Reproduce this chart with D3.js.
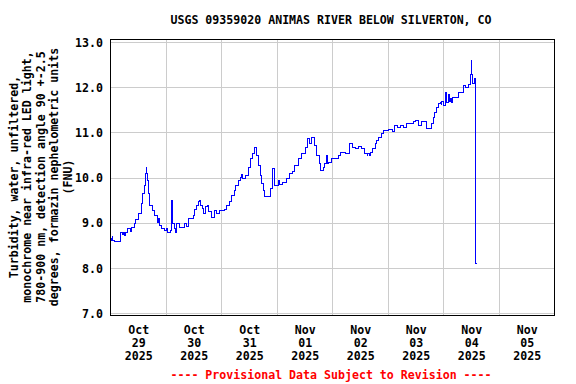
<!DOCTYPE html>
<html><head><meta charset="utf-8">
<script src="https://cdn.jsdelivr.net/npm/d3@7"></script>
<style>
html,body{margin:0;padding:0;background:#fff;}
svg{display:block;}
text{font-family:"DejaVu Sans Mono",monospace;font-weight:bold;}
</style></head>
<body>
<svg id="chart" width="576" height="384"></svg>
<script>
const titleText = "USGS 09359020 ANIMAS RIVER BELOW SILVERTON, CO";
const footerText = "---- Provisional Data Subject to Revision ----";
const yLabelLines = [
  "Turbidity, water, unfiltered,",
  "monochrome near infra-red LED light,",
  "780-900 nm, detection angle 90 +-2.5",
  "degrees, formazin nephelometric units",
  "(FNU)"
];
const yTicks = [7, 8, 9, 10, 11, 12, 13];
const dayTicks = ["2025-10-29","2025-10-30","2025-10-31","2025-11-01","2025-11-02","2025-11-03","2025-11-04","2025-11-05"];
const dayMonths = ["Oct","Oct","Oct","Nov","Nov","Nov","Nov","Nov"];
const dayNums = ["29","30","31","01","02","03","04","05"];
const dayYears = ["2025","2025","2025","2025","2025","2025","2025","2025"];
const xStart = "2025-10-29T00:00";
const xEnd = "2025-11-06T00:00";

const times = [
"2025-10-29T00:00","2025-10-29T00:30","2025-10-29T00:45","2025-10-29T01:00","2025-10-29T01:45","2025-10-29T04:30","2025-10-29T05:00","2025-10-29T05:30",
"2025-10-29T06:15","2025-10-29T06:30",
"2025-10-29T07:30","2025-10-29T08:30","2025-10-29T09:15","2025-10-29T10:15","2025-10-29T11:00","2025-10-29T12:00","2025-10-29T13:15",
"2025-10-29T14:00","2025-10-29T14:30","2025-10-29T15:00","2025-10-29T15:30","2025-10-29T15:45","2025-10-29T16:00","2025-10-29T16:30",
"2025-10-29T16:45","2025-10-29T18:00","2025-10-29T19:00","2025-10-29T20:15","2025-10-29T20:45","2025-10-29T21:15","2025-10-29T22:15",
"2025-10-29T23:30","2025-10-30T00:00","2025-10-30T00:45","2025-10-30T01:45","2025-10-30T02:30","2025-10-30T02:45","2025-10-30T03:30",
"2025-10-30T04:00","2025-10-30T04:30","2025-10-30T06:00","2025-10-30T08:00","2025-10-30T08:45","2025-10-30T09:45","2025-10-30T11:45",
"2025-10-30T12:30","2025-10-30T13:15","2025-10-30T14:00","2025-10-30T14:30","2025-10-30T14:45","2025-10-30T15:45","2025-10-30T16:15",
"2025-10-30T17:15","2025-10-30T17:45","2025-10-30T18:15","2025-10-30T19:45","2025-10-30T21:00","2025-10-30T22:00","2025-10-30T23:00",
"2025-10-31T00:15","2025-10-31T01:30","2025-10-31T02:15","2025-10-31T03:15","2025-10-31T04:30","2025-10-31T05:30","2025-10-31T06:15",
"2025-10-31T07:15","2025-10-31T08:15","2025-10-31T08:45","2025-10-31T09:15","2025-10-31T10:15","2025-10-31T11:30","2025-10-31T12:30",
"2025-10-31T13:30","2025-10-31T14:15","2025-10-31T15:15","2025-10-31T16:00","2025-10-31T16:45","2025-10-31T17:30","2025-10-31T18:00",
"2025-10-31T18:45","2025-10-31T21:00","2025-10-31T22:15","2025-10-31T22:45","2025-10-31T23:45","2025-11-01T00:30","2025-11-01T01:15",
"2025-11-01T02:30","2025-11-01T04:15","2025-11-01T05:15","2025-11-01T06:30","2025-11-01T07:45","2025-11-01T09:15","2025-11-01T10:45",
"2025-11-01T12:15","2025-11-01T13:15","2025-11-01T14:00","2025-11-01T15:00","2025-11-01T16:15","2025-11-01T17:15","2025-11-01T18:15",
"2025-11-01T19:00","2025-11-01T20:00","2025-11-01T20:45","2025-11-01T21:30","2025-11-01T21:45","2025-11-01T22:15","2025-11-01T23:45",
"2025-11-02T02:30","2025-11-02T03:15","2025-11-02T05:30","2025-11-02T07:30","2025-11-02T08:30","2025-11-02T09:45","2025-11-02T11:15",
"2025-11-02T12:45","2025-11-02T14:00","2025-11-02T15:00","2025-11-02T15:15","2025-11-02T16:00","2025-11-02T16:15",
"2025-11-02T17:15","2025-11-02T18:30","2025-11-02T19:00","2025-11-02T19:45","2025-11-02T21:00",
"2025-11-02T22:00","2025-11-03T00:00","2025-11-03T01:45","2025-11-03T03:00","2025-11-03T04:00","2025-11-03T05:15","2025-11-03T06:30",
"2025-11-03T08:00","2025-11-03T11:00","2025-11-03T11:45","2025-11-03T13:00","2025-11-03T14:30","2025-11-03T16:45","2025-11-03T19:00",
"2025-11-03T19:30","2025-11-03T20:15","2025-11-03T21:00","2025-11-03T21:45","2025-11-03T22:30","2025-11-03T23:00","2025-11-03T23:15","2025-11-04T00:00","2025-11-04T01:00",
"2025-11-04T01:15","2025-11-04T02:00","2025-11-04T02:30","2025-11-04T03:00","2025-11-04T03:30","2025-11-04T03:45","2025-11-04T05:00","2025-11-04T06:30","2025-11-04T08:45",
"2025-11-04T09:30","2025-11-04T10:45","2025-11-04T11:30","2025-11-04T12:00","2025-11-04T12:15","2025-11-04T12:30","2025-11-04T13:15",
"2025-11-04T13:45","2025-11-04T14:00","2025-11-04T14:30"
];
const values = [
8.65,8.62,8.70,8.62,8.60,8.79,8.75,8.79,
8.72,8.79,
8.88,8.82,8.91,9.00,9.08,9.22,9.44,
9.66,9.84,10.10,10.23,10.10,9.95,9.66,
9.40,9.28,9.17,9.02,9.10,8.95,8.88,
8.84,8.89,8.80,8.84,9.50,9.00,8.88,
8.80,9.00,8.91,9.00,8.93,9.10,9.17,
9.30,9.40,9.47,9.50,9.40,9.33,9.22,
9.36,9.40,9.25,9.13,9.28,9.22,9.28,
9.28,9.30,9.40,9.47,9.62,9.73,9.84,
9.95,10.02,10.08,9.98,10.06,10.24,10.43,
10.54,10.68,10.50,10.28,10.06,9.88,9.73,
9.60,9.77,10.20,9.84,9.84,9.95,9.85,
9.90,9.98,10.10,10.15,10.28,10.43,10.54,
10.68,10.87,10.77,10.89,10.72,10.50,10.32,
10.17,10.24,10.32,10.50,10.32,10.35,10.43,
10.50,10.57,10.55,10.76,10.68,10.65,10.70,
10.65,10.55,10.50,10.55,10.50,10.57,
10.65,10.77,10.83,10.90,10.98,
11.05,11.08,11.02,11.16,11.12,11.16,11.12,
11.20,11.24,11.28,11.16,11.24,11.10,11.20,
11.35,11.46,11.57,11.64,11.68,11.62,11.70,11.60,11.89,
11.68,11.84,11.70,11.75,11.68,11.78,11.79,11.89,12.05,
12.01,12.08,12.29,12.60,12.29,12.09,12.20,
10.28,8.10,8.10
];

const parse = d3.timeParse("%Y-%m-%dT%H:%M");
const parseDay = d3.timeParse("%Y-%m-%d");
const data = times.map((t, i) => ({t: parse(t), v: values[i]}));

const svg = d3.select("#chart");
const pLeft = 110.5, pRight = 554.5, pTop = 39.5, pBottom = 315.5;

const x = d3.scaleTime().domain([parse(xStart), parse(xEnd)]).range([pLeft, pRight]);
const y = d3.scaleLinear().domain([7, 13]).range([313.5, 42.5]);

// grid
const grid = svg.append("g").attr("shape-rendering", "crispEdges");
grid.selectAll("line.h").data(yTicks).join("line")
  .attr("x1", pLeft).attr("x2", pRight)
  .attr("y1", d => y(d)).attr("y2", d => y(d))
  .attr("stroke", "#cccccc").attr("stroke-width", 1);
const dayBounds = dayTicks.slice(1).map(parseDay);
grid.selectAll("line.v").data(dayBounds).join("line")
  .attr("x1", d => x(d)).attr("x2", d => x(d))
  .attr("y1", pTop).attr("y2", pBottom)
  .attr("stroke", "#cccccc").attr("stroke-width", 1);

// data line
const line = d3.line().x(d => x(d.t)).y(d => y(d.v)).curve(d3.curveStepAfter);
svg.append("path").datum(data)
  .attr("d", line)
  .attr("fill", "none").attr("stroke", "#0000ff").attr("stroke-width", 1)
  .attr("shape-rendering", "crispEdges");

// frame
svg.append("rect").attr("x", pLeft).attr("y", pTop)
  .attr("width", pRight - pLeft).attr("height", pBottom - pTop)
  .attr("fill", "none").attr("stroke", "#000").attr("stroke-width", 1)
  .attr("shape-rendering", "crispEdges");

// y axis labels
const yAxis = d3.axisLeft(y).tickValues(yTicks).tickFormat(d3.format(".1f")).tickSize(0).tickPadding(0);
const yg = svg.append("g").attr("transform", "translate(103,0)").call(yAxis);
yg.select(".domain").remove();
yg.selectAll("text").attr("font-size", "11.6px").attr("fill", "#000")
  .attr("font-family", "DejaVu Sans Mono").attr("font-weight", "bold");

// x axis labels
const noon = dayTicks.map(d => d3.timeHour.offset(parseDay(d), 12));
const xAxis = d3.axisBottom(x).tickValues(noon).tickSize(0).tickFormat("");
const xg = svg.append("g").attr("transform", `translate(0,${pBottom})`).call(xAxis);
xg.select(".domain").remove();
xg.selectAll(".tick").each(function(d, i) {
  const t = d3.select(this).append("text").attr("text-anchor", "middle")
    .attr("font-size", "11.6px").attr("fill", "#000");
  [dayMonths[i], dayNums[i], dayYears[i]].forEach((s, k) => {
    t.append("tspan").attr("x", 0).attr("y", 18.5 + k * 13).text(s);
  });
});

// title
svg.append("text").attr("x", 331).attr("y", 24).attr("text-anchor", "middle")
  .attr("font-size", "11.6px").attr("fill", "#000").text(titleText);

// footer
svg.append("text").attr("x", 331).attr("y", 379).attr("text-anchor", "middle")
  .attr("font-size", "11.6px").attr("fill", "#ff0000").text(footerText);

// y label
const yl = svg.append("text").attr("transform", "translate(0,177) rotate(-90)")
  .attr("text-anchor", "middle").attr("font-size", "11.6px").attr("fill", "#000");
yLabelLines.forEach((s, k) => {
  yl.append("tspan").attr("x", 0).attr("y", 17.5 + k * 13.5).text(s);
});
</script>
</body></html>
